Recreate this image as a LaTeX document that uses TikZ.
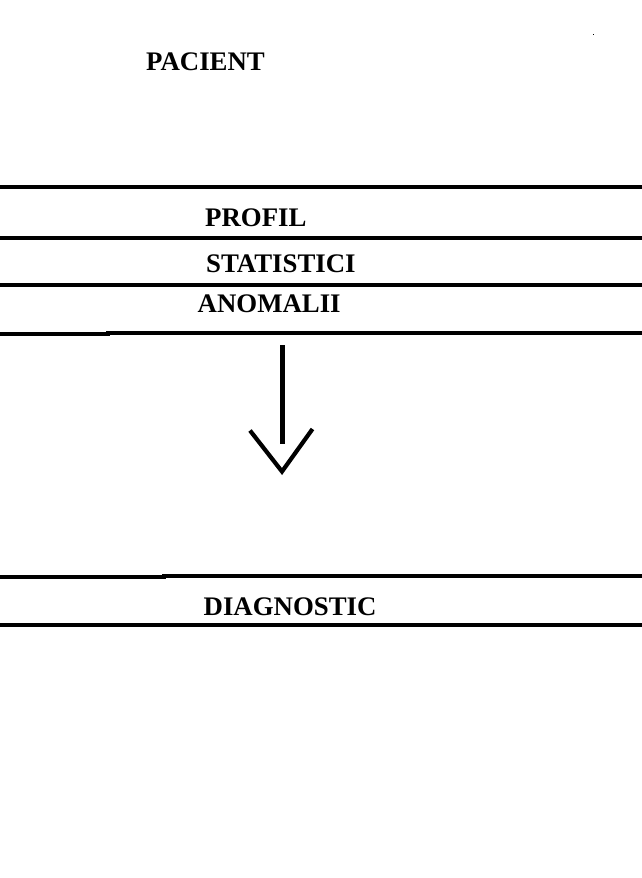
\documentclass[tikz,border=0pt]{standalone}
\usepackage{fontspec}
\setmainfont{Liberation Serif}
\begin{document}
\begin{tikzpicture}[x=1pt,y=-1pt,
  lbl/.style={anchor=base west,inner sep=0pt,font=\fontsize{26.8}{30}\selectfont\bfseries},
  rule/.style={line width=4pt},
  arr/.style={line width=4.2pt}]
\useasboundingbox[fill=white] (0,0) rectangle (642,878);
% labels
\node[lbl] (pacient) at (146,70) {PACIENT};
\node[lbl] (profil) at (205,226) {PROFIL};
\node[lbl] (stat) at (206,272.5) {STATISTICI};
\node[lbl] (anom) at (197.5,312.7) {ANOMALII};
\node[lbl] (diag) at (203.5,615) {DIAGNOSTIC};
% horizontal rules
\draw[rule] (0,187) -- (642,187);
\draw[rule] (0,237.5) -- (642,237.5);
\draw[rule] (0,285) -- (642,285);
\draw[rule] (0,334) -- (108,334) -- (108,333) -- (642,333);
\draw[rule] (0,576.5) -- (164,576.5) -- (164,575.5) -- (642,575.5);
\draw[rule] (0,625) -- (642,625);
% arrow
\coordinate (atop) at (282.5,345);
\coordinate (abot) at (282.5,444);
\coordinate (hl) at (250,430.5);
\coordinate (tip) at (282,471.5);
\coordinate (hr) at (312.5,429);
\draw[arr] (atop) -- (abot);
\draw[arr,line join=miter] (hl) -- (tip) -- (hr);
% stray dot
\fill (593,34) rectangle (594.2,35.2);
\end{tikzpicture}
\end{document}
